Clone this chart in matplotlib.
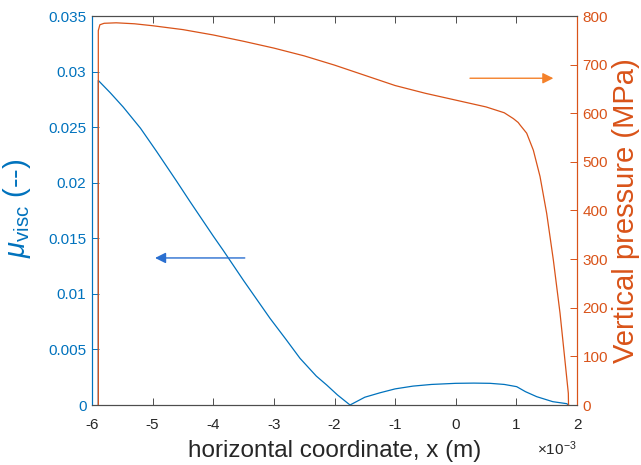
import numpy as np
import matplotlib
matplotlib.use('Agg')
import matplotlib.pyplot as plt

plt.rcParams['font.family'] = ['Liberation Sans', 'DejaVu Sans']
plt.rcParams['mathtext.fontset'] = 'custom'
plt.rcParams['mathtext.rm'] = 'Liberation Sans'
plt.rcParams['mathtext.it'] = 'Liberation Sans:italic'

### data (x in units of 1e-3 m)
x_visc = [-5.896, -5.896, -5.7, -5.484, -5.2, -4.933, -4.6, -4.383, -4.0, -3.834,
          -3.5, -3.064, -2.8, -2.569, -2.3, -2.129, -1.95, -1.744, -1.5, -1.249,
          -1.0, -0.705, -0.4, 0.0, 0.3, 0.565, 0.8, 1.005, 1.15, 1.335, 1.6, 1.83, 1.86]
mu_visc = [0.0, 0.0292, 0.0281, 0.0268, 0.0249, 0.0228, 0.0201, 0.0183, 0.0152, 0.0139,
           0.0112, 0.0078, 0.0059, 0.0042, 0.0026, 0.0018, 0.0009, 0.0, 0.0007, 0.0011,
           0.00145, 0.0017, 0.00185, 0.00195, 0.00197, 0.00195, 0.00185, 0.00165, 0.0012,
           0.00075, 0.0003, 0.00012, 0.0]

x_pres = [-5.896, -5.896, -5.87, -5.8, -5.6, -5.3, -5.0, -4.5, -4.0, -3.5, -3.0, -2.5,
          -2.0, -1.5, -1.0, -0.5, 0.0, 0.5, 0.8, 0.95, 1.03, 1.06, 1.17, 1.28, 1.39,
          1.50, 1.61, 1.72, 1.80, 1.857, 1.86]
pressure = [0, 770, 782, 785, 786, 784, 780, 772, 761, 748, 734, 718,
            699, 678, 657, 641, 627, 613, 601, 589, 581, 576, 559, 524, 470,
            394, 298, 189, 93, 24, 0]

x_ticks = [-6, -5, -4, -3, -2, -1, 0, 1, 2]
mu_ticks = [0, 0.005, 0.01, 0.015, 0.02, 0.025, 0.03, 0.035]
mu_ticklabels = ['0', '0.005', '0.01', '0.015', '0.02', '0.025', '0.03', '0.035']
p_ticks = [0, 100, 200, 300, 400, 500, 600, 700, 800]

blue = '#0072BD'
orange = '#D95319'
axis_grey = '#4d4d4d'

fig = plt.figure(figsize=(6.41, 4.65), dpi=100)
ax = fig.add_axes([92/641, 60/465, 485/641, 389/465])
ax2 = ax.twinx()

ax.plot(x_visc, mu_visc, color=blue, lw=0.9)
ax2.plot(x_pres, pressure, color=orange, lw=0.9)

ax.set_xlim(-6, 2)
ax.set_ylim(0, 0.035)
ax2.set_ylim(0, 800)

ax.set_xticks(x_ticks)
ax.set_xticklabels([str(t) for t in x_ticks])
ax.set_yticks(mu_ticks)
ax.set_yticklabels(mu_ticklabels)
ax2.set_yticks(p_ticks)

ax.tick_params(axis='x', direction='in', length=5, width=0.7, color=axis_grey,
               labelsize=11, labelcolor='#262626', top=True, pad=9.5)
ax.tick_params(axis='y', direction='in', length=5, width=0.7, color=blue,
               labelsize=11, labelcolor=blue, pad=4)
ax2.tick_params(axis='y', direction='in', length=5, width=0.7, color=orange,
                labelsize=11, labelcolor=orange, pad=4)

for a in (ax, ax2):
    a.spines['top'].set_color(axis_grey)
    a.spines['bottom'].set_color(axis_grey)
    a.spines['left'].set_color(blue)
    a.spines['right'].set_color(orange)
    for s in a.spines.values():
        s.set_linewidth(0.8)

ax.set_xlabel('horizontal coordinate, x (m)', fontsize=17.5, color='#262626', labelpad=5.5)
ax.set_ylabel(r'$\mu_{\mathrm{visc}}$ (--)', fontsize=21, color=blue)
ax2.set_ylabel('Vertical pressure (MPa)', fontsize=21, color=orange)
ax.yaxis.set_label_coords(-0.121, 0.506)
ax2.yaxis.set_label_coords(1.072, 0.5)

ax.text(1.0, -0.088, r'$\times10^{-3}$', transform=ax.transAxes, ha='right', va='top',
        fontsize=11, color='#262626')

# direction arrows
ax.annotate('', xy=(-4.96, 0.01323), xytext=(-3.48, 0.01323),
            arrowprops=dict(arrowstyle='-|>', color='#2a6fd0', lw=1.0,
                            mutation_scale=16, shrinkA=0, shrinkB=0))
ax2.annotate('', xy=(1.61, 672), xytext=(0.235, 672),
             arrowprops=dict(arrowstyle='-|>', color='#f4812a', lw=1.0,
                             mutation_scale=16, shrinkA=0, shrinkB=0))

plt.savefig('out.png', dpi=100)
plt.close()
